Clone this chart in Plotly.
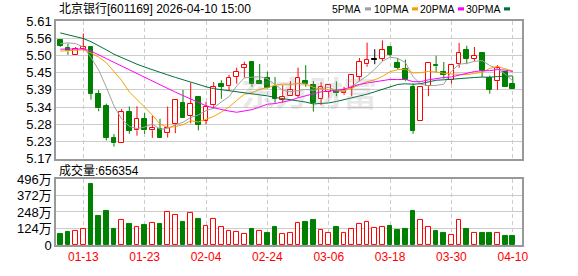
import plotly.graph_objects as go
import pandas as pd

# ---------------- data ----------------
dates = ["01-08", "01-09", "01-12", "01-13", "01-14", "01-15", "01-16", "01-19", "01-20", "01-21",
         "01-22", "01-23", "01-26", "01-27", "01-28", "01-29", "01-30", "02-02", "02-03", "02-04",
         "02-05", "02-06", "02-09", "02-10", "02-11", "02-12", "02-13", "02-24", "02-25", "02-26",
         "02-27", "03-02", "03-03", "03-04", "03-05", "03-06", "03-09", "03-10", "03-11", "03-12",
         "03-13", "03-16", "03-17", "03-18", "03-19", "03-20", "03-23", "03-24", "03-25", "03-26",
         "03-27", "03-30", "03-31", "04-01", "04-02", "04-03", "04-07", "04-08", "04-09", "04-10"]

opens = [5.548, 5.525, 5.502, 5.520, 5.527, 5.378, 5.338, 5.237, 5.222, 5.319,
         5.261, 5.297, 5.261, 5.266, 5.252, 5.280, 5.347, 5.308, 5.368, 5.291,
         5.341, 5.408, 5.402, 5.432, 5.461, 5.479, 5.417, 5.429, 5.400, 5.359,
         5.370, 5.372, 5.417, 5.407, 5.362, 5.383, 5.387, 5.379, 5.397, 5.431,
         5.472, 5.487, 5.489, 5.527, 5.477, 5.456, 5.400, 5.291, 5.402, 5.469,
         5.448, 5.421, 5.472, 5.517, 5.490, 5.509, 5.429, 5.418, 5.448, 5.408]
highs = [5.551, 5.538, 5.527, 5.570, 5.530, 5.390, 5.346, 5.249, 5.329, 5.337,
         5.338, 5.316, 5.308, 5.298, 5.337, 5.360, 5.390, 5.413, 5.370, 5.352,
         5.415, 5.421, 5.438, 5.461, 5.480, 5.480, 5.473, 5.448, 5.431, 5.405,
         5.418, 5.461, 5.469, 5.418, 5.415, 5.409, 5.417, 5.400, 5.438, 5.492,
         5.541, 5.520, 5.548, 5.527, 5.492, 5.487, 5.410, 5.398, 5.477, 5.499,
         5.479, 5.469, 5.540, 5.531, 5.527, 5.509, 5.436, 5.469, 5.448, 5.434]
lows = [5.527, 5.502, 5.502, 5.517, 5.359, 5.322, 5.229, 5.209, 5.222, 5.250,
        5.244, 5.250, 5.237, 5.238, 5.238, 5.252, 5.300, 5.283, 5.261, 5.280,
        5.331, 5.362, 5.387, 5.410, 5.429, 5.400, 5.408, 5.393, 5.349, 5.349,
        5.370, 5.366, 5.400, 5.321, 5.342, 5.365, 5.370, 5.374, 5.370, 5.418,
        5.464, 5.472, 5.482, 5.497, 5.456, 5.418, 5.250, 5.291, 5.370, 5.446,
        5.426, 5.410, 5.461, 5.472, 5.482, 5.431, 5.378, 5.390, 5.400, 5.392]
closes = [5.530, 5.513, 5.520, 5.527, 5.378, 5.331, 5.238, 5.220, 5.319, 5.260,
          5.297, 5.261, 5.268, 5.238, 5.269, 5.358, 5.300, 5.346, 5.278, 5.337,
          5.398, 5.400, 5.429, 5.448, 5.469, 5.408, 5.408, 5.395, 5.362, 5.369,
          5.389, 5.429, 5.408, 5.349, 5.398, 5.405, 5.379, 5.391, 5.438, 5.479,
          5.487, 5.487, 5.517, 5.502, 5.461, 5.421, 5.260, 5.398, 5.477, 5.466,
          5.439, 5.469, 5.509, 5.490, 5.499, 5.451, 5.390, 5.461, 5.400, 5.392]
prev_close_before = 5.56

# volume in units of 万
volumes = [86, 100, 108, 120, 460, 216, 259, 122, 185, 158,
           134, 151, 163, 158, 249, 223, 172, 242, 194, 144,
           199, 134, 105, 100, 86, 122, 105, 93, 137, 86,
           93, 165, 172, 187, 113, 93, 137, 93, 120, 158,
           170, 127, 134, 144, 115, 122, 252, 185, 134, 108,
           93, 79, 185, 122, 93, 93, 93, 93, 65, 65.6354]

# moving-average values visible before a full window of closes exists
ma5_head = [5.538, 5.540, 5.538, 5.527]
ma10_head = [5.514, 5.515, 5.516, 5.518, 5.508, 5.495, 5.477, 5.450, 5.420]
ma20_head = [5.520, 5.521, 5.521, 5.521, 5.514, 5.503, 5.490, 5.478, 5.466, 5.454,
             5.442, 5.430, 5.418, 5.405, 5.393, 5.383, 5.372, 5.362, 5.350]
ma30_head = [5.572, 5.566, 5.560, 5.554, 5.544, 5.532, 5.518, 5.504, 5.493, 5.482,
             5.472, 5.463, 5.454, 5.446, 5.438, 5.430, 5.422, 5.414, 5.407, 5.400,
             5.394, 5.391, 5.388, 5.385, 5.382, 5.379, 5.375, 5.371, 5.366]

tick_dates = ["01-13", "01-23", "02-04", "02-24", "03-06", "03-18", "03-30", "04-10"]
price_tickvals = [5.17, 5.225, 5.28, 5.335, 5.39, 5.445, 5.50, 5.555, 5.61]
price_ticktext = ["5.17", "5.23", "5.28", "5.34", "5.39", "5.45", "5.50", "5.56", "5.61"]
vol_tickvals = [0, 124, 248, 372, 496]
vol_ticktext = ["0", "124万", "248万", "372万", "496万"]

title_text = "北京银行[601169] 2026-04-10 15:00"
ma_names = ["5PMA", "10PMA", "20PMA", "30PMA"]
ma_periods = [5, 10, 20, 30]
ma_heads = [ma5_head, ma10_head, ma20_head, ma30_head]
ma_colors = ["#a0a0a0", "#f5a200", "#ff00ff", "#00703a"]

RED = "#ff0000"
GREEN = "#008000"

# ---------------- derived ----------------
n = len(closes)
xs = list(range(n))
cs = pd.Series(closes)
mas = []
for p, head in zip(ma_periods, ma_heads):
    vals = cs.rolling(p).mean().tolist()
    vals = head + vals[len(head):]
    mas.append(vals)

fig = go.Figure()

# wicks
wick = {"r": ([], []), "g": ([], []), "k": ([], [])}
body = {"r": ([], [], []), "g": ([], [], []), "k": ([], [], [])}
for i in range(n):
    o, h, l, c = opens[i], highs[i], lows[i], closes[i]
    k = "r" if c > o else ("g" if c < o else "k")
    top, bot = max(o, c), min(o, c)
    wx, wy = wick[k]
    wx += [i, i, None, i, i, None]
    wy += [h, top, None, bot, l, None]
    bx, bb, bh = body[k]
    bx.append(i)
    bb.append(bot)
    bh.append(max(top - bot, 0.0006))

wcol = {"r": RED, "g": GREEN, "k": "#000000"}
for k in ["r", "g", "k"]:
    fig.add_trace(go.Scatter(x=wick[k][0], y=wick[k][1], mode="lines",
                             line=dict(color=wcol[k], width=1), hoverinfo="skip",
                             xaxis="x", yaxis="y"))

fills = {"r": "#ffffff", "g": GREEN, "k": "#000000"}
for k in ["r", "g", "k"]:
    bx, bb, bh = body[k]
    fig.add_trace(go.Bar(x=bx, y=bh, base=bb, width=0.62,
                         marker=dict(color=fills[k], line=dict(color=wcol[k], width=1)),
                         xaxis="x", yaxis="y", hoverinfo="skip"))

# moving averages
for name, vals, col in zip(ma_names, mas, ma_colors):
    fig.add_trace(go.Scatter(x=xs, y=vals, mode="lines", name=name,
                             line=dict(color=col, width=1), hoverinfo="skip",
                             xaxis="x", yaxis="y"))

# volume
prevs = [prev_close_before] + closes[:-1]
up_x, up_v, dn_x, dn_v = [], [], [], []
for i in range(n):
    if closes[i] >= prevs[i]:
        up_x.append(i); up_v.append(volumes[i])
    else:
        dn_x.append(i); dn_v.append(volumes[i])
fig.add_trace(go.Bar(x=up_x, y=up_v, width=0.62,
                     marker=dict(color="#ffffff", line=dict(color=RED, width=1)),
                     xaxis="x2", yaxis="y2", hoverinfo="skip"))
fig.add_trace(go.Bar(x=dn_x, y=dn_v, width=0.62,
                     marker=dict(color=GREEN, line=dict(color=GREEN, width=1)),
                     xaxis="x2", yaxis="y2", hoverinfo="skip"))

# ---------------- layout ----------------
W, H = 578, 276
L, R, T, B = 56, 56, 21, 21
pw, ph = W - L - R, H - T - B


def px(xp):
    return (xp - L) / pw


def py(yp):
    return (H - B - yp) / ph


tickidx = [dates.index(d) for d in tick_dates]
xr = [-0.56, 60.2]
font_main = "Liberation Sans, Arial, Noto Sans CJK SC, sans-serif"
axis_common = dict(showline=True, mirror=True, linecolor="#999999", linewidth=1.5,
                   zeroline=False, ticks="", fixedrange=True)

fig.update_layout(
    width=W, height=H,
    margin=dict(l=L, r=R, t=T, b=B, pad=0),
    paper_bgcolor="#ffffff", plot_bgcolor="#ffffff",
    showlegend=False, barmode="overlay", bargap=0,
    font=dict(family=font_main, size=12, color="#000000"),
    xaxis=dict(domain=[0, 1], anchor="y", range=xr, tickvals=tickidx,
               showticklabels=False, showgrid=True, gridcolor="#cccccc",
               griddash="4px,3px", gridwidth=1, **axis_common),
    yaxis=dict(domain=[py(165), 1], anchor="x", range=[5.17, 5.61],
               tickvals=price_tickvals, ticktext=price_ticktext,
               tickfont=dict(size=13, color="#000000"),
               showgrid=True, gridcolor="#cccccc", gridwidth=1, **axis_common),
    xaxis2=dict(domain=[0, 1], anchor="y2", range=xr, tickvals=tickidx,
                ticktext=tick_dates, tickfont=dict(size=12, color=RED),
                showgrid=True, gridcolor="#cccccc", griddash="4px,3px", gridwidth=1,
                **axis_common),
    yaxis2=dict(domain=[0, py(186)], anchor="x2", range=[0, 496],
                tickvals=vol_tickvals, ticktext=vol_ticktext,
                tickfont=dict(size=13, color="#000000"),
                showgrid=True, gridcolor="#cccccc", gridwidth=1, **axis_common),
)

annotations = [
    dict(text=title_text, x=px(57), y=py(8), xref="paper", yref="paper",
         xanchor="left", yanchor="middle", showarrow=False,
         font=dict(size=12, color="#000000")),
    dict(text="成交量:" + str(int(round(volumes[-1] * 10000))), x=px(57), y=py(177.5),
         xref="paper", yref="paper", xanchor="left", yanchor="middle", showarrow=False,
         font=dict(size=12, color="#000000")),
    dict(text="东方财富", x=px(309), y=py(95), xref="paper", yref="paper",
         xanchor="center", yanchor="middle", showarrow=False,
         font=dict(size=34, color="rgba(150,150,150,0.22)",
                   family="Noto Sans CJK SC, sans-serif", weight="bold")),
]
shapes = []
legend_right = [363, 410, 456, 502]
for name, col, xr_ in zip(ma_names, ma_colors, legend_right):
    annotations.append(dict(text=name, x=px(xr_), y=py(8.3), xref="paper", yref="paper",
                            xanchor="right", yanchor="middle", showarrow=False,
                            font=dict(size=10.5, color="#000000")))
    shapes.append(dict(type="rect", xref="paper", yref="paper",
                       x0=px(xr_ + 2), x1=px(xr_ + 8), y0=py(10), y1=py(6.7),
                       fillcolor=col, line=dict(width=0)))
fig.update_layout(annotations=annotations, shapes=shapes)

fig.write_html("out.html")
